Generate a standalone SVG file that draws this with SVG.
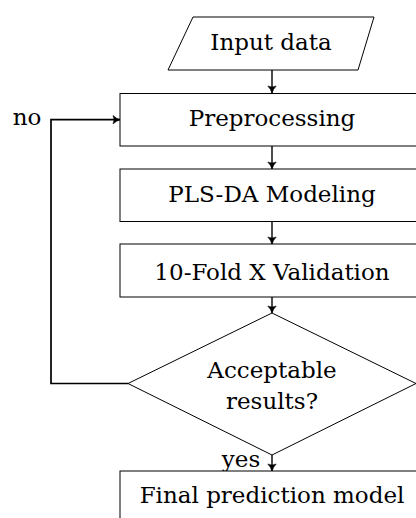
<svg xmlns="http://www.w3.org/2000/svg" width="416" height="518" viewBox="0 0 416 518">
<style>
.n{fill:#fff;stroke:#000;stroke-width:1}
.t{font-family:"DejaVu Serif","Liberation Serif",serif;font-size:23px;fill:#000;text-anchor:middle}
.c{fill:none;stroke:#000;stroke-width:1.4}
.lp{fill:none;stroke:#000;stroke-width:1.7}
</style>
<defs>
<marker id="ah" markerWidth="12" markerHeight="12" refX="8" refY="6" orient="auto" markerUnits="userSpaceOnUse">
<path d="M1,1.8 Q4,4.8 8,6 Q4,7.2 1,10.2 Q3,6 1,1.8 Z" fill="#000" stroke="#000" stroke-width="0.6" stroke-linejoin="round"/>
</marker>
</defs>
<rect width="416" height="518" fill="#fff"/>
<g id="connectors">
<line class="c" x1="272" y1="70" x2="272" y2="93" marker-end="url(#ah)"/>
<line class="c" x1="272" y1="146" x2="272" y2="169" marker-end="url(#ah)"/>
<line class="c" x1="272" y1="222" x2="272" y2="244" marker-end="url(#ah)"/>
<line class="c" x1="272" y1="297" x2="272" y2="313" marker-end="url(#ah)"/>
<line class="c" x1="272" y1="455" x2="272" y2="471" marker-end="url(#ah)"/>
<polyline class="lp" points="128,383.5 51,383.5 51,119.7 120,119.7" marker-end="url(#ah)"/>
<text class="t" x="27" y="125">no</text>
<text class="t" x="241" y="467">yes</text>
</g>
<g id="input">
<polygon class="n" points="193,17 374,17 358,70 168,70"/>
<text class="t" x="271" y="50">Input data</text>
</g>
<g id="preprocessing">
<rect class="n" x="120" y="93.5" width="304" height="52.5"/>
<text class="t" x="272" y="125.5">Preprocessing</text>
</g>
<g id="plsda">
<rect class="n" x="120" y="169" width="304" height="52.5"/>
<text class="t" x="272" y="201.5">PLS-DA Modeling</text>
</g>
<g id="validation">
<rect class="n" x="120" y="244" width="304" height="53"/>
<text class="t" x="272" y="279.5">10-Fold X Validation</text>
</g>
<g id="decision">
<polygon class="n" points="272,313 416,383.5 272,455 128,383.5"/>
<text class="t" x="272" y="378">Acceptable</text>
<text class="t" x="272" y="409">results?</text>
</g>
<g id="final">
<rect class="n" x="120" y="471" width="304" height="60"/>
<text class="t" x="272" y="503">Final prediction model</text>
</g>
</svg>
